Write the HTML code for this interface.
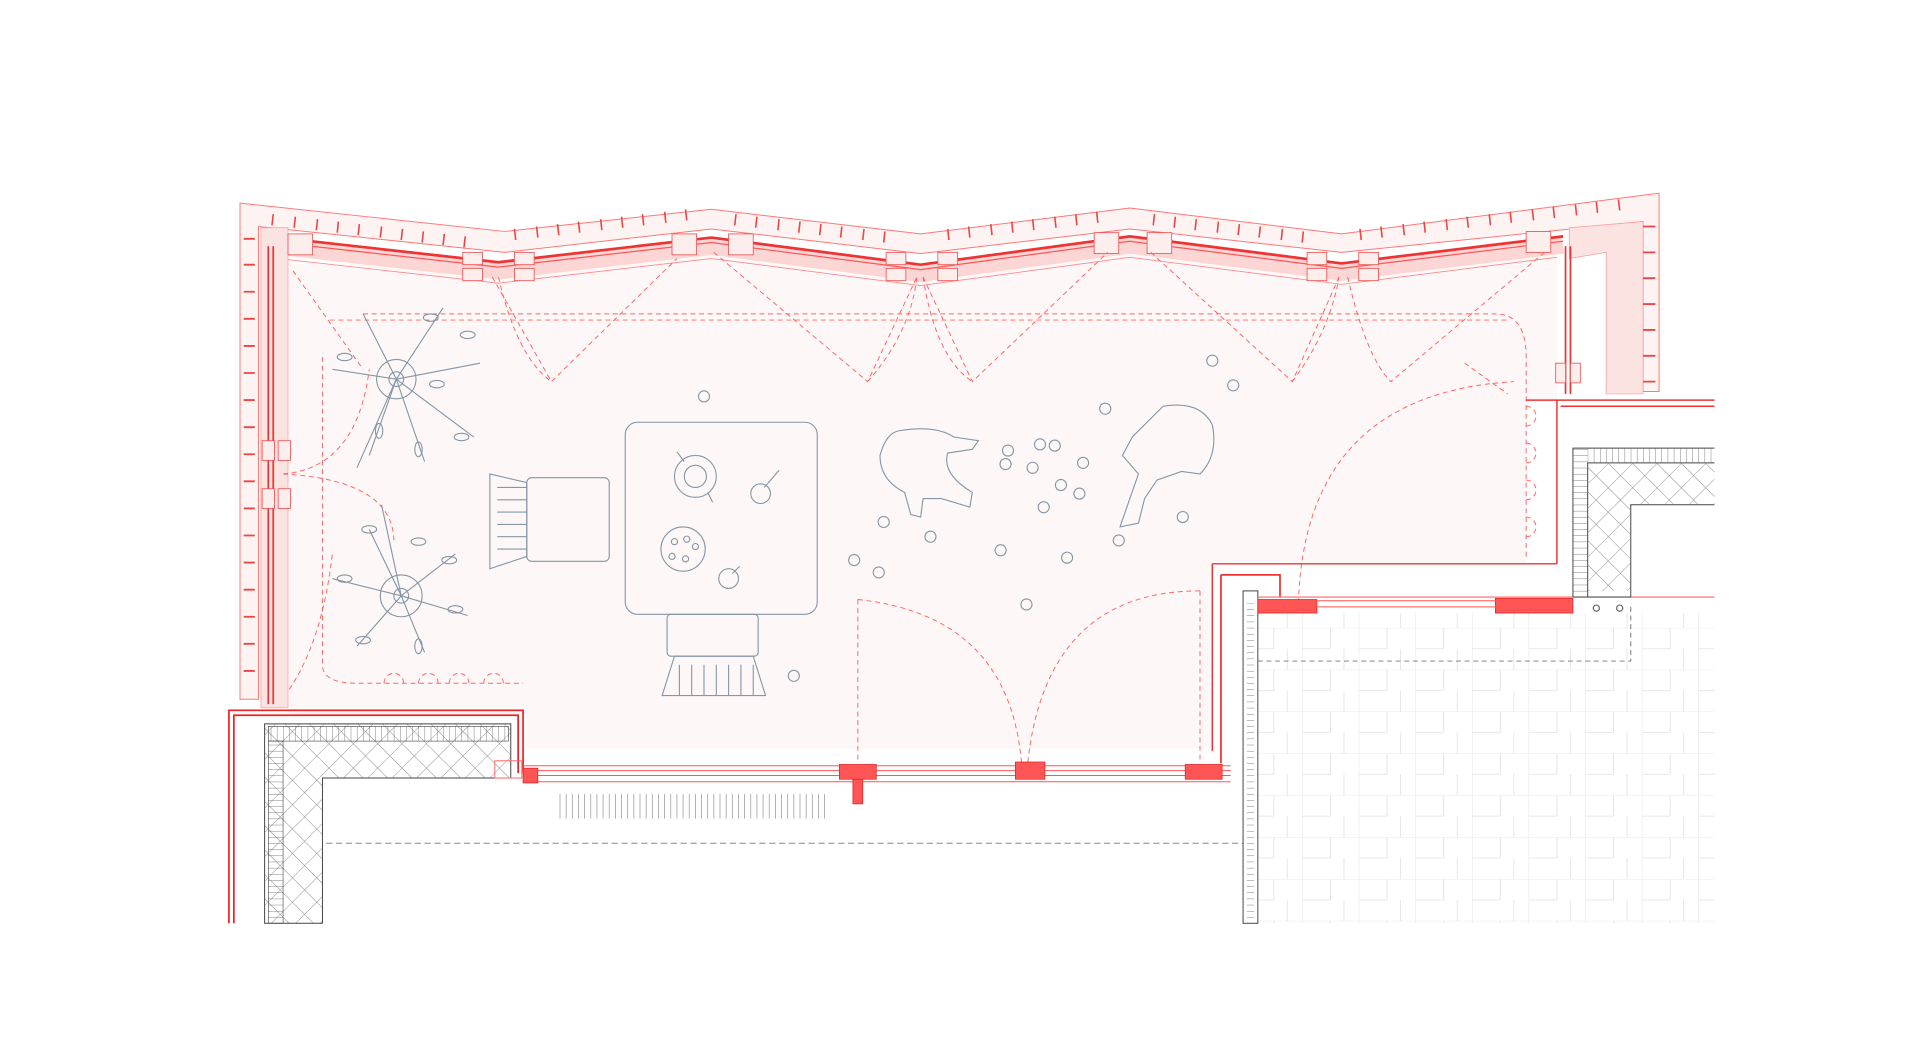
<!DOCTYPE html>
<html><head><meta charset="utf-8"><style>html,body{margin:0;padding:0;background:#fff}svg{display:block}</style></head>
<body>
<svg width="1920" height="1055" viewBox="0 0 1560 857" preserveAspectRatio="none" xmlns="http://www.w3.org/2000/svg">
<defs>
<pattern id="xh" width="14" height="14" patternUnits="userSpaceOnUse" patternTransform="rotate(45)">
<path d="M0 0H14M0 0V14" stroke="#888" stroke-width="0.7" fill="none"/></pattern>
<pattern id="tl" width="46" height="34" patternUnits="userSpaceOnUse">
<path d="M0 0H46M0 0V34M23 0V17M0 17H23M34 17V34" stroke="#e2e2e2" stroke-width="0.7" fill="none"/></pattern>
<pattern id="br" width="5" height="10" patternUnits="userSpaceOnUse"><path d="M0 0V10" stroke="#555" stroke-width="0.6"/></pattern>
<pattern id="brh" width="10" height="5" patternUnits="userSpaceOnUse"><path d="M0 0H10" stroke="#555" stroke-width="0.6"/></pattern>
</defs>
<rect width="1560" height="857" fill="#fff"/>
<polygon points="195,165 410,188 578,170 748,190 918,169 1090,190 1348,157 1348,318 1335,318 1335,180 1090,205 918,186 748,206 578,186 410,205 210,184 210,568 195,568" fill="#fdf3f2" stroke="#f77" stroke-width="0.8"/>
<polygon points="235,214 405,215 578,196 748,218 918,195 1090,217 1265,200 1265,325 1240,325 1240,458 985,458 985,608 428,608 428,580 235,580" fill="#fdf8f7"/>
<polygon points="1275,185 1335,180 1335,320 1305,320 1305,205 1275,210" fill="#fbe3e2" stroke="#f99" stroke-width="0.6"/>
<polyline points="226,200 405,220 578,200 748,222 918,199 1090,221 1270,199" fill="none" stroke="#fcd6d4" stroke-width="14"/>
<polyline points="226,193 405,213 578,193 748,215 918,192 1090,214 1270,192" fill="none" stroke="#e33" stroke-width="2.2"/>
<polyline points="226,197 405,217 578,197 748,219 918,196 1090,218 1270,196" fill="none" stroke="#f55" stroke-width="1"/>
<polyline points="226,210 405,230 578,210 748,232 918,209 1090,231 1265,209" fill="none" stroke="#f88" stroke-width="0.7"/>
<g stroke="#e44" stroke-width="1.3">
<path d="M222 174l-1 9M240 176l-1 9M258 178l-1 9M275 180l-1 9M292 182l-1 9M310 184l-1 9M327 186l-1 9M344 188l-1 9M361 190l-1 9M378 192l-1 9"/>
<path d="M418 186l1 9M436 184l1 9M453 182l1 9M470 180l1 9M488 178l1 9M505 176l1 9M522 174l1 9M540 172l1 9M557 170l1 9"/>
<path d="M598 174l-1 9M615 176l-1 9M633 178l-1 9M650 180l-1 9M667 182l-1 9M684 184l-1 9M702 186l-1 9M719 188l-1 9"/>
<path d="M770 186l1 9M787 184l1 9M805 182l1 9M822 180l1 9M839 178l1 9M857 176l1 9M874 174l1 9M891 172l1 9"/>
<path d="M938 174l-1 9M955 176l-1 9M972 178l-1 9M990 180l-1 9M1007 182l-1 9M1024 184l-1 9M1042 186l-1 9M1059 188l-1 9"/>
<path d="M1105 186l1 9M1122 184l1 9M1140 182l1 9M1157 180l1 9M1175 178l1 9M1192 176l1 9M1210 174l1 9M1227 172l1 9M1245 170l1 9M1262 168l1 9M1280 166l1 9M1297 164l1 9M1315 162l1 9"/>
</g>
<g stroke="#e44" stroke-width="1.5">
<path d="M198 194h9M198 215h9M198 237h9M198 259h9M198 281h9M198 303h9M198 325h9M198 347h9M198 369h9M198 391h9M198 413h9M198 435h9M198 457h9M198 479h9M198 501h9M198 523h9M198 545h9"/>
<path d="M1335 184h10M1335 205h10M1335 226h10M1335 247h10M1335 268h10M1335 289h10M1335 310h10"/>
</g>
<rect x="212" y="185" width="22" height="390" fill="#fbe3e2" stroke="#f99" stroke-width="0.6"/>
<path d="M218 200V572M222 200V572" stroke="#e33" stroke-width="1.4"/>
<path d="M1272 200V320M1276 200V320" stroke="#e33" stroke-width="1.4"/>
<g fill="#fdeeee" stroke="#e55" stroke-width="0.7">
<rect x="213" y="358" width="10" height="16"/><rect x="226" y="358" width="10" height="16"/><rect x="213" y="397" width="10" height="16"/><rect x="226" y="397" width="10" height="16"/>
<rect x="1264" y="295" width="8" height="16"/><rect x="1276" y="295" width="8" height="16"/>
<rect x="376" y="205" width="16" height="10"/><rect x="376" y="218" width="16" height="10"/><rect x="418" y="205" width="16" height="10"/><rect x="418" y="218" width="16" height="10"/>
<rect x="546" y="190" width="20" height="17"/><rect x="592" y="190" width="20" height="17"/>
<rect x="720" y="205" width="16" height="10"/><rect x="720" y="218" width="16" height="10"/><rect x="762" y="205" width="16" height="10"/><rect x="762" y="218" width="16" height="10"/>
<rect x="889" y="189" width="20" height="17"/><rect x="932" y="189" width="20" height="17"/>
<rect x="1062" y="205" width="16" height="10"/><rect x="1062" y="218" width="16" height="10"/><rect x="1104" y="205" width="16" height="10"/><rect x="1104" y="218" width="16" height="10"/>
<rect x="234" y="190" width="20" height="17"/><rect x="1240" y="188" width="20" height="17"/>
</g>
<g fill="none" stroke="#f66" stroke-width="0.8" stroke-dasharray="4 3">
<path d="M238 220L295 300M400 225L448 310L550 210M405 225Q420 290 448 310M580 205L705 310L745 225M705 310Q740 270 745 225M750 225L790 310L900 205M750 225Q760 290 790 310M935 205L1050 310L1088 225M1050 310Q1080 270 1088 225M1095 225Q1110 290 1130 310L1255 205"/>
<path d="M295 255H1215Q1240 255 1240 290V455M268 260H1225M262 290V540Q262 555 290 555H425M1190 295L1225 320"/>
<path d="M230 385Q290 380 300 300M230 385Q320 390 320 440M235 560Q262 520 270 450"/>
<path d="M697 487V620M697 487Q820 500 830 620M975 480V620M975 480Q850 480 835 620M1055 490Q1060 320 1230 310"/>
<path d="M312 555a8 8 0 0 1 16 0M340 555a8 8 0 0 1 16 0M365 555a8 8 0 0 1 16 0M393 555a8 8 0 0 1 16 0"/>
<path d="M1240 330a8 8 0 0 1 0 16M1240 360a8 8 0 0 1 0 16M1240 390a8 8 0 0 1 0 16M1240 420a8 8 0 0 1 0 16"/>
</g>
<path d="M1240 325H1393M1265 325V458M1268 330H1393M985 458H1265M985 458V610" fill="none" stroke="#e33" stroke-width="1.2"/>
<path d="M992 467H1040V485M992 467V620" fill="none" stroke="#e33" stroke-width="1.4"/>
<path d="M186 750V577H425V628M190 750V581H421V628" fill="none" stroke="#e22" stroke-width="1.4"/>
<path d="M215 750V588H415V632H262V750Z" fill="url(#xh)" stroke="#444" stroke-width="0.8"/>
<rect x="218" y="590" width="195" height="12" fill="url(#br)" stroke="#444" stroke-width="0.5"/>
<rect x="218" y="602" width="12" height="148" fill="url(#brh)" stroke="#444" stroke-width="0.5"/>
<path d="M265 685H1010" stroke="#888" stroke-width="0.8" stroke-dasharray="5 3"/>
<path d="M425 622H1000M425 626H1000M425 630H1000M425 635H1000" stroke="#f55" stroke-width="0.8"/>
<g fill="#f55" stroke="#d22" stroke-width="0.6"><rect x="425" y="624" width="12" height="12"/><rect x="682" y="621" width="30" height="12"/><rect x="693" y="633" width="8" height="20"/><rect x="825" y="619" width="24" height="14"/><rect x="963" y="621" width="30" height="12"/></g>
<rect x="402" y="618" width="22" height="14" fill="none" stroke="#f66" stroke-width="0.8"/>
<g fill="none" stroke="#999" stroke-width="0.6">
<path d="M455 645v20M460 645v20M465 645v20M470 645v20M475 645v20M480 645v20M485 645v20M490 645v20M495 645v20M500 645v20M505 645v20M510 645v20M515 645v20M520 645v20M525 645v20M530 645v20M535 645v20M540 645v20M545 645v20M550 645v20M555 645v20M560 645v20M565 645v20M570 645v20M575 645v20M580 645v20M585 645v20M590 645v20M595 645v20M600 645v20M605 645v20M610 645v20M615 645v20M620 645v20M625 645v20M630 645v20M635 645v20M640 645v20M645 645v20M650 645v20M655 645v20M660 645v20M665 645v20M670 645v20"/>
</g>
<rect x="1022" y="498" width="371" height="252" fill="url(#tl)"/>
<path d="M1022 537H1325V490" fill="none" stroke="#777" stroke-width="0.8" stroke-dasharray="4 3"/>
<rect x="1010" y="480" width="12" height="270" fill="#fff" stroke="#444" stroke-width="0.8"/>
<rect x="1013" y="490" width="6" height="260" fill="url(#brh)"/>
<path d="M1022 485H1393" stroke="#f66"/>
<g fill="#f55" stroke="#d22" stroke-width="0.6"><rect x="1022" y="487" width="48" height="11"/><rect x="1215" y="486" width="63" height="12"/></g>
<path d="M1040 488H1220M1040 493H1220" stroke="#f55" stroke-width="0.8"/>
<path d="M1278 485V364H1393M1290 485V376H1393M1278 485H1325V410H1393" fill="none" stroke="#444" stroke-width="0.8"/>
<path d="M1290 480V376H1393V410H1325V480Z" fill="url(#xh)"/>
<rect x="1278" y="364" width="12" height="120" fill="url(#brh)"/>
<rect x="1290" y="364" width="103" height="12" fill="url(#br)"/>
<circle cx="1297" cy="494" r="2.5" fill="none" stroke="#666"/><circle cx="1316" cy="494" r="2.5" fill="none" stroke="#666"/>
<g fill="none" stroke="#8596a6" stroke-width="0.9">
<rect x="508" y="343" width="156" height="156" rx="10"/>
<circle cx="565" cy="387" r="17"/><circle cx="565" cy="387" r="9"/><path d="M556 375l-6-8M575 400l4 8"/>
<circle cx="618" cy="401" r="8"/><path d="M621 396l12-14"/>
<circle cx="555" cy="446" r="18"/><circle cx="548" cy="440" r="2.5"/><circle cx="558" cy="438" r="2.5"/><circle cx="546" cy="452" r="2.5"/><circle cx="557" cy="454" r="2.5"/><circle cx="565" cy="444" r="2.5"/>
<circle cx="592" cy="470" r="8"/><path d="M595 466l6-6"/>
<rect x="428" y="388" width="67" height="68" rx="4"/><path d="M398 385L428 392V452L398 462ZM404 396h24M404 406h24M404 416h24M404 426h24M404 436h24M404 446h24"/>
<rect x="542" y="499" width="74" height="34" rx="3"/><path d="M538 565L548 533H612L622 565ZM552 540v25M562 540v25M572 540v25M582 540v25M592 540v25M602 540v25M612 540v25"/>
<circle cx="572" cy="322" r="4.5"/><circle cx="985" cy="293" r="4.5"/><circle cx="1002" cy="313" r="4.5"/><circle cx="898" cy="332" r="4.5"/>
<circle cx="819" cy="366" r="4.5"/><circle cx="845" cy="361" r="4.5"/><circle cx="857" cy="362" r="4.5"/><circle cx="817" cy="377" r="4.5"/><circle cx="839" cy="380" r="4.5"/><circle cx="880" cy="376" r="4.5"/><circle cx="862" cy="394" r="4.5"/><circle cx="877" cy="401" r="4.5"/><circle cx="848" cy="412" r="4.5"/><circle cx="961" cy="420" r="4.5"/><circle cx="718" cy="424" r="4.5"/><circle cx="756" cy="436" r="4.5"/><circle cx="813" cy="447" r="4.5"/><circle cx="909" cy="439" r="4.5"/><circle cx="867" cy="453" r="4.5"/><circle cx="694" cy="455" r="4.5"/><circle cx="714" cy="465" r="4.5"/><circle cx="834" cy="491" r="4.5"/><circle cx="645" cy="549" r="4.5"/>
<path d="M730 350Q760 345 775 355L795 358L790 365L770 368Q765 385 790 400L788 412L765 405L750 405L748 420L740 418L735 400Q715 390 715 370Q720 352 730 350Z"/>
<path d="M945 330Q975 325 985 345Q990 370 975 385L960 383L940 390L930 405L925 425L910 428L918 405L925 385L912 370L920 355Q935 340 945 330Z"/>
<circle cx="322" cy="308" r="16"/><circle cx="322" cy="308" r="6"/><circle cx="326" cy="484" r="17"/><circle cx="326" cy="484" r="6"/>
<path d="M322 308L295 255M322 308L360 250M322 308L390 295M322 308L270 300M322 308L300 370M322 308L345 375M322 308L385 355M322 308L290 380"/>
<path d="M326 484L310 410M326 484L370 450M326 484L270 470M326 484L290 525M326 484L345 530M326 484L380 500M326 484L300 430"/>
<ellipse cx="350" cy="258" rx="6" ry="3"/><ellipse cx="380" cy="272" rx="6" ry="3"/><ellipse cx="355" cy="312" rx="6" ry="3"/><ellipse cx="280" cy="290" rx="6" ry="3"/><ellipse cx="375" cy="355" rx="6" ry="3"/><ellipse cx="308" cy="350" rx="3" ry="6"/><ellipse cx="340" cy="365" rx="3" ry="6"/>
<ellipse cx="300" cy="430" rx="6" ry="3"/><ellipse cx="340" cy="440" rx="6" ry="3"/><ellipse cx="365" cy="455" rx="6" ry="3"/><ellipse cx="280" cy="470" rx="6" ry="3"/><ellipse cx="295" cy="520" rx="6" ry="3"/><ellipse cx="340" cy="525" rx="3" ry="6"/><ellipse cx="370" cy="495" rx="6" ry="3"/>
</g>
</svg>
</body></html>
